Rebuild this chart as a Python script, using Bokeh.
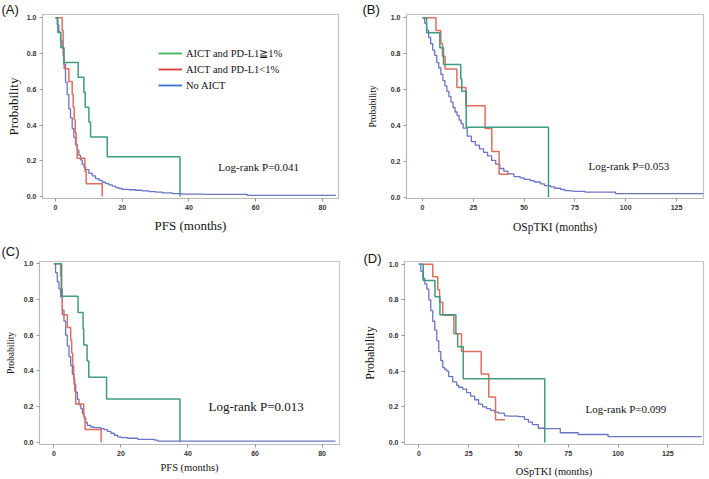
from bokeh.plotting import figure
from bokeh.models import Label, Legend, LegendItem, FixedTicker, Range1d, PrintfTickFormatter
from bokeh.layouts import column, row
from bokeh.embed import file_html
from bokeh.resources import INLINE

# ---------------- data ----------------
# Panel A: PFS
a_green_t = [0, 0.7, 1.6, 2.5, 6.8, 8.5, 8.9, 10.0, 10.5, 15.5, 37.3]
a_green_s = [1.0, 0.917, 0.833, 0.75, 0.667, 0.583, 0.5, 0.417, 0.333, 0.222, 0.0]
a_red_t = [0, 2.0, 2.3, 2.6, 4.0, 5.0, 5.3, 5.6, 5.9, 6.2, 6.5, 8.8, 9.2, 14.0]
a_red_s = [1.0, 0.929, 0.786, 0.714, 0.643, 0.571, 0.5, 0.429, 0.357, 0.286, 0.214, 0.143, 0.071, 0.0]
a_blue_t = [0, 0.5, 1.0, 1.5, 2.0, 2.5, 3.0, 3.5, 4.0, 4.5, 5.0, 5.5, 6.0, 6.5, 7.0, 7.5, 8.0, 8.5,
            9.0, 10.0, 11.0, 12.0, 13.0, 14.0, 15.0, 16.0, 17.0, 18.0, 19.0, 20.0, 22.0, 24.0, 26.0,
            28.0, 30.0, 32.0, 35.0, 38.0, 45.0, 57.5, 84.0]
a_blue_s = [1.0, 0.96, 0.92, 0.87, 0.83, 0.74, 0.64, 0.57, 0.49, 0.44, 0.38, 0.33, 0.29, 0.26, 0.23,
            0.205, 0.18, 0.165, 0.15, 0.13, 0.115, 0.10, 0.09, 0.08, 0.072, 0.065, 0.058, 0.05, 0.045,
            0.04, 0.038, 0.035, 0.032, 0.028, 0.025, 0.02, 0.016, 0.013, 0.012, 0.006, 0.006]

# Panel B: OSpTKI
b_green_t = [0, 2.0, 8.5, 10.3, 18.8, 19.3, 21.5, 62.0]
b_green_s = [1.0, 0.917, 0.833, 0.74, 0.66, 0.59, 0.39, 0.0]
b_red_t = [0, 6.6, 9.0, 9.8, 11.1, 16.9, 21.3, 30.8, 34.1, 37.7, 42.5]
b_red_s = [1.0, 0.929, 0.857, 0.786, 0.714, 0.612, 0.51, 0.383, 0.255, 0.128, 0.128]
b_blue_t = [0, 1, 2, 3, 4, 5, 6, 7, 8, 9, 10, 11, 12, 13, 14, 15, 16, 17, 18, 19, 20, 22, 24, 26,
            28, 30, 32, 34, 36, 38, 40, 42, 45, 48, 50, 53, 55, 58, 60, 63, 65, 68, 70, 73, 75, 80,
            95, 140]
b_blue_s = [1.0, 0.97, 0.93, 0.89, 0.855, 0.82, 0.79, 0.75, 0.72, 0.685, 0.65, 0.62, 0.59, 0.56,
            0.53, 0.50, 0.475, 0.455, 0.43, 0.41, 0.385, 0.34, 0.31, 0.29, 0.27, 0.25, 0.23, 0.205,
            0.185, 0.16, 0.145, 0.13, 0.115, 0.108, 0.1, 0.093, 0.085, 0.075, 0.065, 0.058, 0.05,
            0.043, 0.037, 0.034, 0.033, 0.028, 0.02, 0.02]

# Panel C: PFS
c_green_t = [0, 2.3, 7.2, 8.7, 8.9, 9.9, 10.4, 15.7, 37.6]
c_green_s = [1.0, 0.818, 0.727, 0.636, 0.545, 0.455, 0.364, 0.242, 0.0]
c_red_t = [0, 2.0, 2.2, 2.5, 4.0, 5.0, 5.3, 5.6, 5.9, 6.2, 6.5, 8.9, 9.3, 14.1]
c_red_s = [1.0, 0.929, 0.857, 0.714, 0.643, 0.571, 0.5, 0.429, 0.357, 0.286, 0.214, 0.143, 0.071, 0.0]
c_blue_t = [0, 0.5, 1, 1.5, 2, 2.5, 3, 3.5, 4, 4.5, 5, 5.5, 6, 6.5, 7, 7.5, 8, 8.5, 9, 9.5, 10, 11,
            12, 14, 15, 16, 17, 18, 19, 20, 22, 25, 30, 31, 84]
c_blue_s = [1.0, 0.95, 0.90, 0.86, 0.815, 0.74, 0.68, 0.60, 0.54, 0.48, 0.43, 0.38, 0.325, 0.28,
            0.24, 0.21, 0.19, 0.16, 0.135, 0.11, 0.094, 0.085, 0.082, 0.076, 0.07, 0.061, 0.05,
            0.039, 0.03, 0.026, 0.022, 0.016, 0.011, 0.006, 0.006]

# Panel D: OSpTKI
d_green_t = [0, 2.2, 8.1, 10.6, 18.6, 19.5, 22.3, 63.2]
d_green_s = [1.0, 0.909, 0.818, 0.716, 0.61, 0.537, 0.358, 0.0]
d_red_t = [0, 7.0, 9.5, 10.4, 12.0, 17.6, 21.4, 31.3, 35.1, 38.5, 43.2]
d_red_s = [1.0, 0.929, 0.857, 0.786, 0.714, 0.61, 0.51, 0.384, 0.255, 0.128, 0.128]
d_blue_t = [0, 1, 2, 3, 4, 5, 6, 7, 8, 9, 10, 11, 12, 13, 14, 15, 17, 19, 20, 22, 24, 26, 28, 30,
            32, 34, 36, 38, 40, 43, 45, 50, 53, 55, 57, 60, 63, 71, 80, 95, 142]
d_blue_s = [1.0, 0.96, 0.92, 0.89, 0.86, 0.80, 0.74, 0.68, 0.63, 0.57, 0.51, 0.46, 0.42, 0.41, 0.40,
            0.37, 0.34, 0.32, 0.31, 0.30, 0.28, 0.26, 0.24, 0.215, 0.20, 0.19, 0.18, 0.17, 0.165,
            0.15, 0.148, 0.145, 0.13, 0.115, 0.10, 0.08, 0.078, 0.055, 0.045, 0.033, 0.033]

y_ticks = [0.0, 0.2, 0.4, 0.6, 0.8, 1.0]
pfs_ticks = [0, 20, 40, 60, 80]
os_ticks = [0, 25, 50, 75, 100, 125]
legend_labels = ["AICT and PD-L1\u22671%", "AICT and PD-L1<1%", "No AICT"]

GREEN = "#3f9c82"
RED = "#df6e5e"
BLUE = "#6b74c4"
LEG_COLORS = ["#3cb463", "#e03a3a", "#3a76c4"]
SERIF = "Liberation Serif"
SANS = "Liberation Sans"


def panel(tag, xr, yr, xticks, xlabel, ylabel, xlabel_size, ylabel_size, curves, p_text, p_pos, p_size,
          fw, fh, bl, br, bt, bb, tag_offset, tag_standoff, ylabel_standoff, xlabel_standoff):
    p = figure(width=bl + fw + br, height=bt + fh + bb, x_range=Range1d(*xr), y_range=Range1d(*yr),
               output_backend="svg", toolbar_location=None, min_border_left=bl, min_border_right=br,
               min_border_top=bt, min_border_bottom=bb, title=tag)
    p.title.text_font = SANS
    p.title.text_font_size = "13px"
    p.title.text_font_style = "normal"
    p.title.text_color = "#111111"
    p.title.align = "left"
    p.title.offset = tag_offset
    p.title.standoff = tag_standoff
    p.xgrid.visible = False
    p.ygrid.visible = False
    p.outline_line_color = "#c4c4c4"
    p.outline_line_width = 1.2
    for ax in (p.xaxis[0], p.yaxis[0]):
        ax.axis_line_color = "#b8b8b8"
        ax.major_tick_line_color = "#999999"
        ax.minor_tick_line_color = None
        ax.major_tick_in = 0
        ax.major_tick_out = 3
        ax.major_label_text_font = SANS
        ax.major_label_text_font_style = "bold"
        ax.major_label_text_font_size = "7px"
        ax.major_label_text_color = "#333333"
        ax.major_label_standoff = 3
        ax.axis_label_text_font = SERIF
        ax.axis_label_text_font_style = "normal"
        ax.axis_label_text_color = "#111111"
    p.xaxis[0].ticker = FixedTicker(ticks=xticks)
    p.yaxis[0].ticker = FixedTicker(ticks=y_ticks)
    p.yaxis[0].formatter = PrintfTickFormatter(format="%.1f")
    p.xaxis[0].axis_label = xlabel
    p.yaxis[0].axis_label = ylabel
    p.xaxis[0].axis_label_text_font_size = xlabel_size
    p.yaxis[0].axis_label_text_font_size = ylabel_size
    p.yaxis[0].axis_label_standoff = ylabel_standoff
    p.xaxis[0].axis_label_standoff = xlabel_standoff

    for (t, s, c, w) in curves:
        p.step(t, s, mode="after", line_color=c, line_width=w)

    p.add_layout(Label(x=p_pos[0], y=p_pos[1], text=p_text, text_font=SERIF, text_font_size=p_size,
                       text_baseline="middle", text_color="#111111"))
    return p


pa = panel("(A)", (-3.9, 84.8), (-0.011, 1.018), pfs_ticks, "PFS (months)", "Probability", "13px", "13px",
           [(a_blue_t, a_blue_s, BLUE, 1.3), (a_red_t, a_red_s, RED, 1.5), (a_green_t, a_green_s, GREEN, 1.5)],
           "Log-rank P=0.041", (48.8, 0.166), "11px", 296, 186, 42, 17, 13, 36, -41, -5, 3, 5)

# legend for panel A
r_leg = []
for col in LEG_COLORS:
    r_leg.append(pa.line(x=[-200, -199], y=[-5, -5], line_color=col, line_width=1.8))
leg = Legend(items=[LegendItem(label=lab, renderers=[r]) for lab, r in zip(legend_labels, r_leg)],
             location=(116, 105), padding=0, margin=0, spacing=0, glyph_width=24, glyph_height=16,
             label_height=16, label_standoff=4, label_text_font=SERIF, label_text_font_size="10.5px",
             label_text_color="#111111", border_line_alpha=0, background_fill_alpha=0)
pa.add_layout(leg)

pb = panel("(B)", (-7.9, 138.3), (-0.007, 1.018), os_ticks, "OSpTKI (months)", "Probability", "11.5px", "9.5px",
           [(b_blue_t, b_blue_s, BLUE, 1.3), (b_red_t, b_red_s, RED, 1.5), (b_green_t, b_green_s, GREEN, 1.5)],
           "Log-rank P=0.053", (81.7, 0.176), "11px", 297, 185, 51, 6, 14, 36, -44, -4, 10, 8)

pc = panel("(C)", (-4.3, 85.2), (-0.013, 1.013), pfs_ticks, "PFS (months)", "Probability", "10.5px", "9.5px",
           [(c_blue_t, c_blue_s, BLUE, 1.3), (c_red_t, c_red_s, RED, 1.5), (c_green_t, c_green_s, GREEN, 1.5)],
           "Log-rank P=0.013", (46.1, 0.198), "13px", 300, 185, 39, 16, 26, 33, -38, 6, 5, 3)

pd_ = panel("(D)", (-7.2, 142.9), (-0.011, 1.015), os_ticks, "OSpTKI (months)", "Probability", "10.5px", "12px",
            [(d_blue_t, d_blue_s, BLUE, 1.3), (d_red_t, d_red_s, RED, 1.5), (d_green_t, d_green_s, GREEN, 1.5)],
            "Log-rank P=0.099", (83.7, 0.187), "11px", 299, 186, 49, 6, 23, 35, -41, -9, 9, 7)

layout = column(row(pa, pb, spacing=0), row(pc, pd_, spacing=0), spacing=0)
open("out.html", "w").write(file_html(layout, INLINE))
